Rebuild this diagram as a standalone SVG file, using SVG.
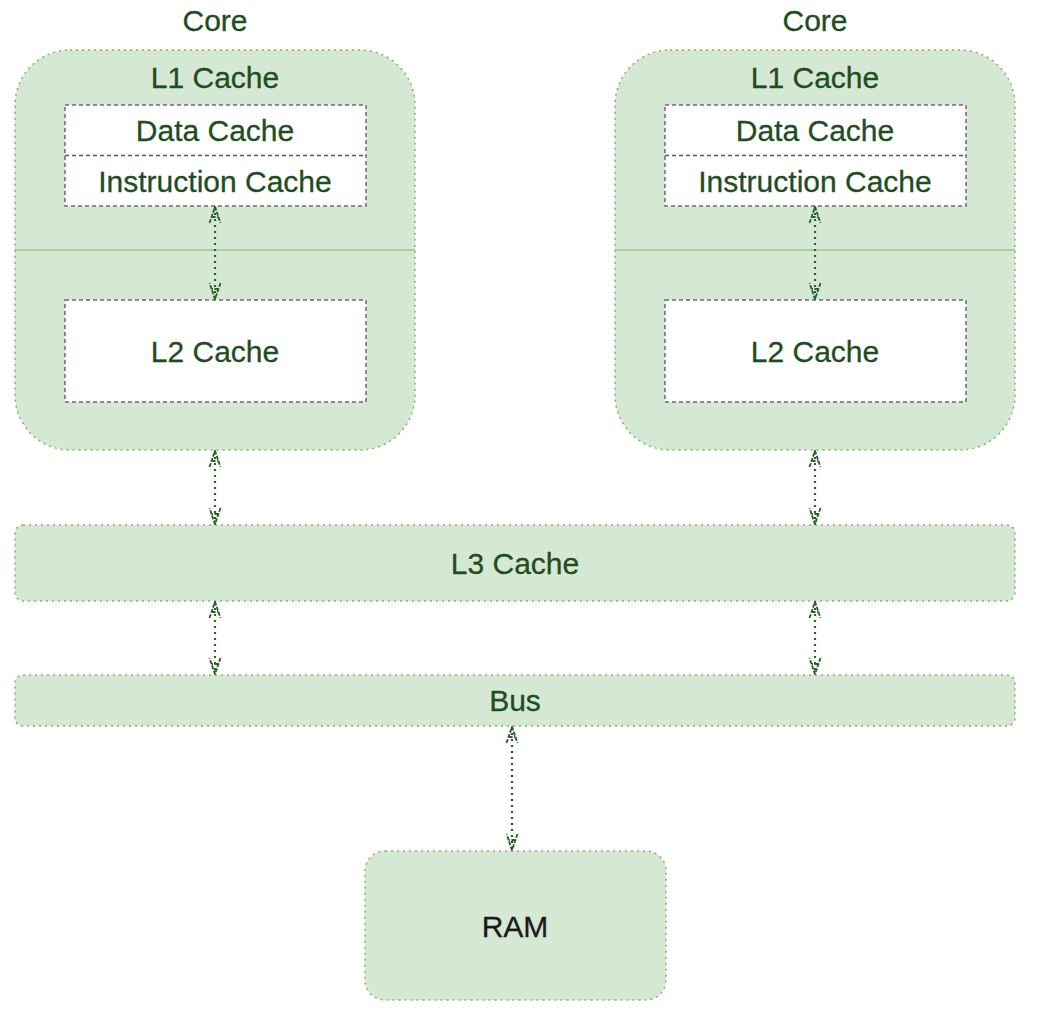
<svg xmlns="http://www.w3.org/2000/svg" width="1052" height="1012" viewBox="0 0 1052 1012">
  <defs>
    <style>
      .lbl { font-family: "Liberation Sans", Arial, Helvetica, sans-serif; font-size: 30px; fill: #1f4d1f; stroke: #1f4d1f; stroke-width: 0.3; text-anchor: middle; }
      .ram { fill: #1a1a1a; stroke: #1a1a1a; }
      .shell { fill: #d5e8d4; stroke: #82b366; stroke-width: 1.5; stroke-dasharray: 2 4; }
      .inner { fill: #ffffff; stroke: #6b6b6b; stroke-width: 1.5; stroke-dasharray: 4 3; }
      .split { stroke: #82b366; stroke-width: 1.2; }
      .link { fill: none; stroke: #2a612a; stroke-width: 2.2; stroke-dasharray: 2 4; }
    </style>
    <!-- open double-stroke arrowhead, tip along +x -->
    <marker id="tip" viewBox="0 0 18 14" refX="17" refY="7" markerWidth="18" markerHeight="14" markerUnits="userSpaceOnUse" orient="auto-start-reverse">
      <path d="M1,1.5 L17,7 L1,12.5 M7,3.6 L7,10.4" fill="none" stroke="#2a612a" stroke-width="1.9" stroke-dasharray="4 1.5"/>
    </marker>
  </defs>

  <!-- left core -->
  <g id="core-left">
    <text class="lbl" x="215" y="31">Core</text>
    <rect class="shell" x="15" y="50" width="400" height="400" rx="55" ry="55"/>
    <line class="split" x1="15" y1="250" x2="415" y2="250"/>
    <text class="lbl" x="215" y="88">L1 Cache</text>
  </g>
  <g id="l1-left">
    <rect class="inner" x="65" y="105" width="301" height="101"/>
    <line x1="65" y1="155.5" x2="366" y2="155.5" stroke="#555" stroke-width="1.5" stroke-dasharray="4 3"/>
    <text class="lbl" x="215" y="141">Data Cache</text>
    <text class="lbl" x="215" y="192">Instruction Cache</text>
  </g>
  <g id="l2-left">
    <rect class="inner" x="65" y="300" width="301" height="102"/>
    <text class="lbl" x="215" y="362">L2 Cache</text>
  </g>

  <!-- right core -->
  <g id="core-right">
    <text class="lbl" x="815" y="31">Core</text>
    <rect class="shell" x="615" y="50" width="400" height="400" rx="55" ry="55"/>
    <line class="split" x1="615" y1="250" x2="1015" y2="250"/>
    <text class="lbl" x="815" y="88">L1 Cache</text>
  </g>
  <g id="l1-right">
    <rect class="inner" x="665" y="105" width="301" height="101"/>
    <line x1="665" y1="155.5" x2="966" y2="155.5" stroke="#555" stroke-width="1.5" stroke-dasharray="4 3"/>
    <text class="lbl" x="815" y="141">Data Cache</text>
    <text class="lbl" x="815" y="192">Instruction Cache</text>
  </g>
  <g id="l2-right">
    <rect class="inner" x="665" y="300" width="301" height="102"/>
    <text class="lbl" x="815" y="362">L2 Cache</text>
  </g>

  <!-- shared levels -->
  <g id="l3">
    <rect class="shell" x="15" y="525" width="1000" height="76" rx="8" ry="8"/>
    <text class="lbl" x="515" y="574">L3 Cache</text>
  </g>
  <g id="bus">
    <rect class="shell" x="15" y="675" width="1000" height="51" rx="8" ry="8"/>
    <text class="lbl" x="515" y="711">Bus</text>
  </g>
  <g id="ram">
    <rect class="shell" x="365" y="851" width="301" height="149" rx="20" ry="20"/>
    <text class="lbl ram" x="515" y="937">RAM</text>
  </g>

  <!-- connectors -->
  <g id="connectors">
    <line class="link" x1="215" y1="207" x2="215" y2="299" marker-start="url(#tip)" marker-end="url(#tip)"/>
    <line class="link" x1="815" y1="207" x2="815" y2="299" marker-start="url(#tip)" marker-end="url(#tip)"/>
    <line class="link" x1="215" y1="451" x2="215" y2="524" marker-start="url(#tip)" marker-end="url(#tip)"/>
    <line class="link" x1="815" y1="451" x2="815" y2="524" marker-start="url(#tip)" marker-end="url(#tip)"/>
    <line class="link" x1="215" y1="602" x2="215" y2="674" marker-start="url(#tip)" marker-end="url(#tip)"/>
    <line class="link" x1="815" y1="602" x2="815" y2="674" marker-start="url(#tip)" marker-end="url(#tip)"/>
    <line class="link" x1="512" y1="727" x2="512" y2="850" marker-start="url(#tip)" marker-end="url(#tip)"/>
  </g>
</svg>
